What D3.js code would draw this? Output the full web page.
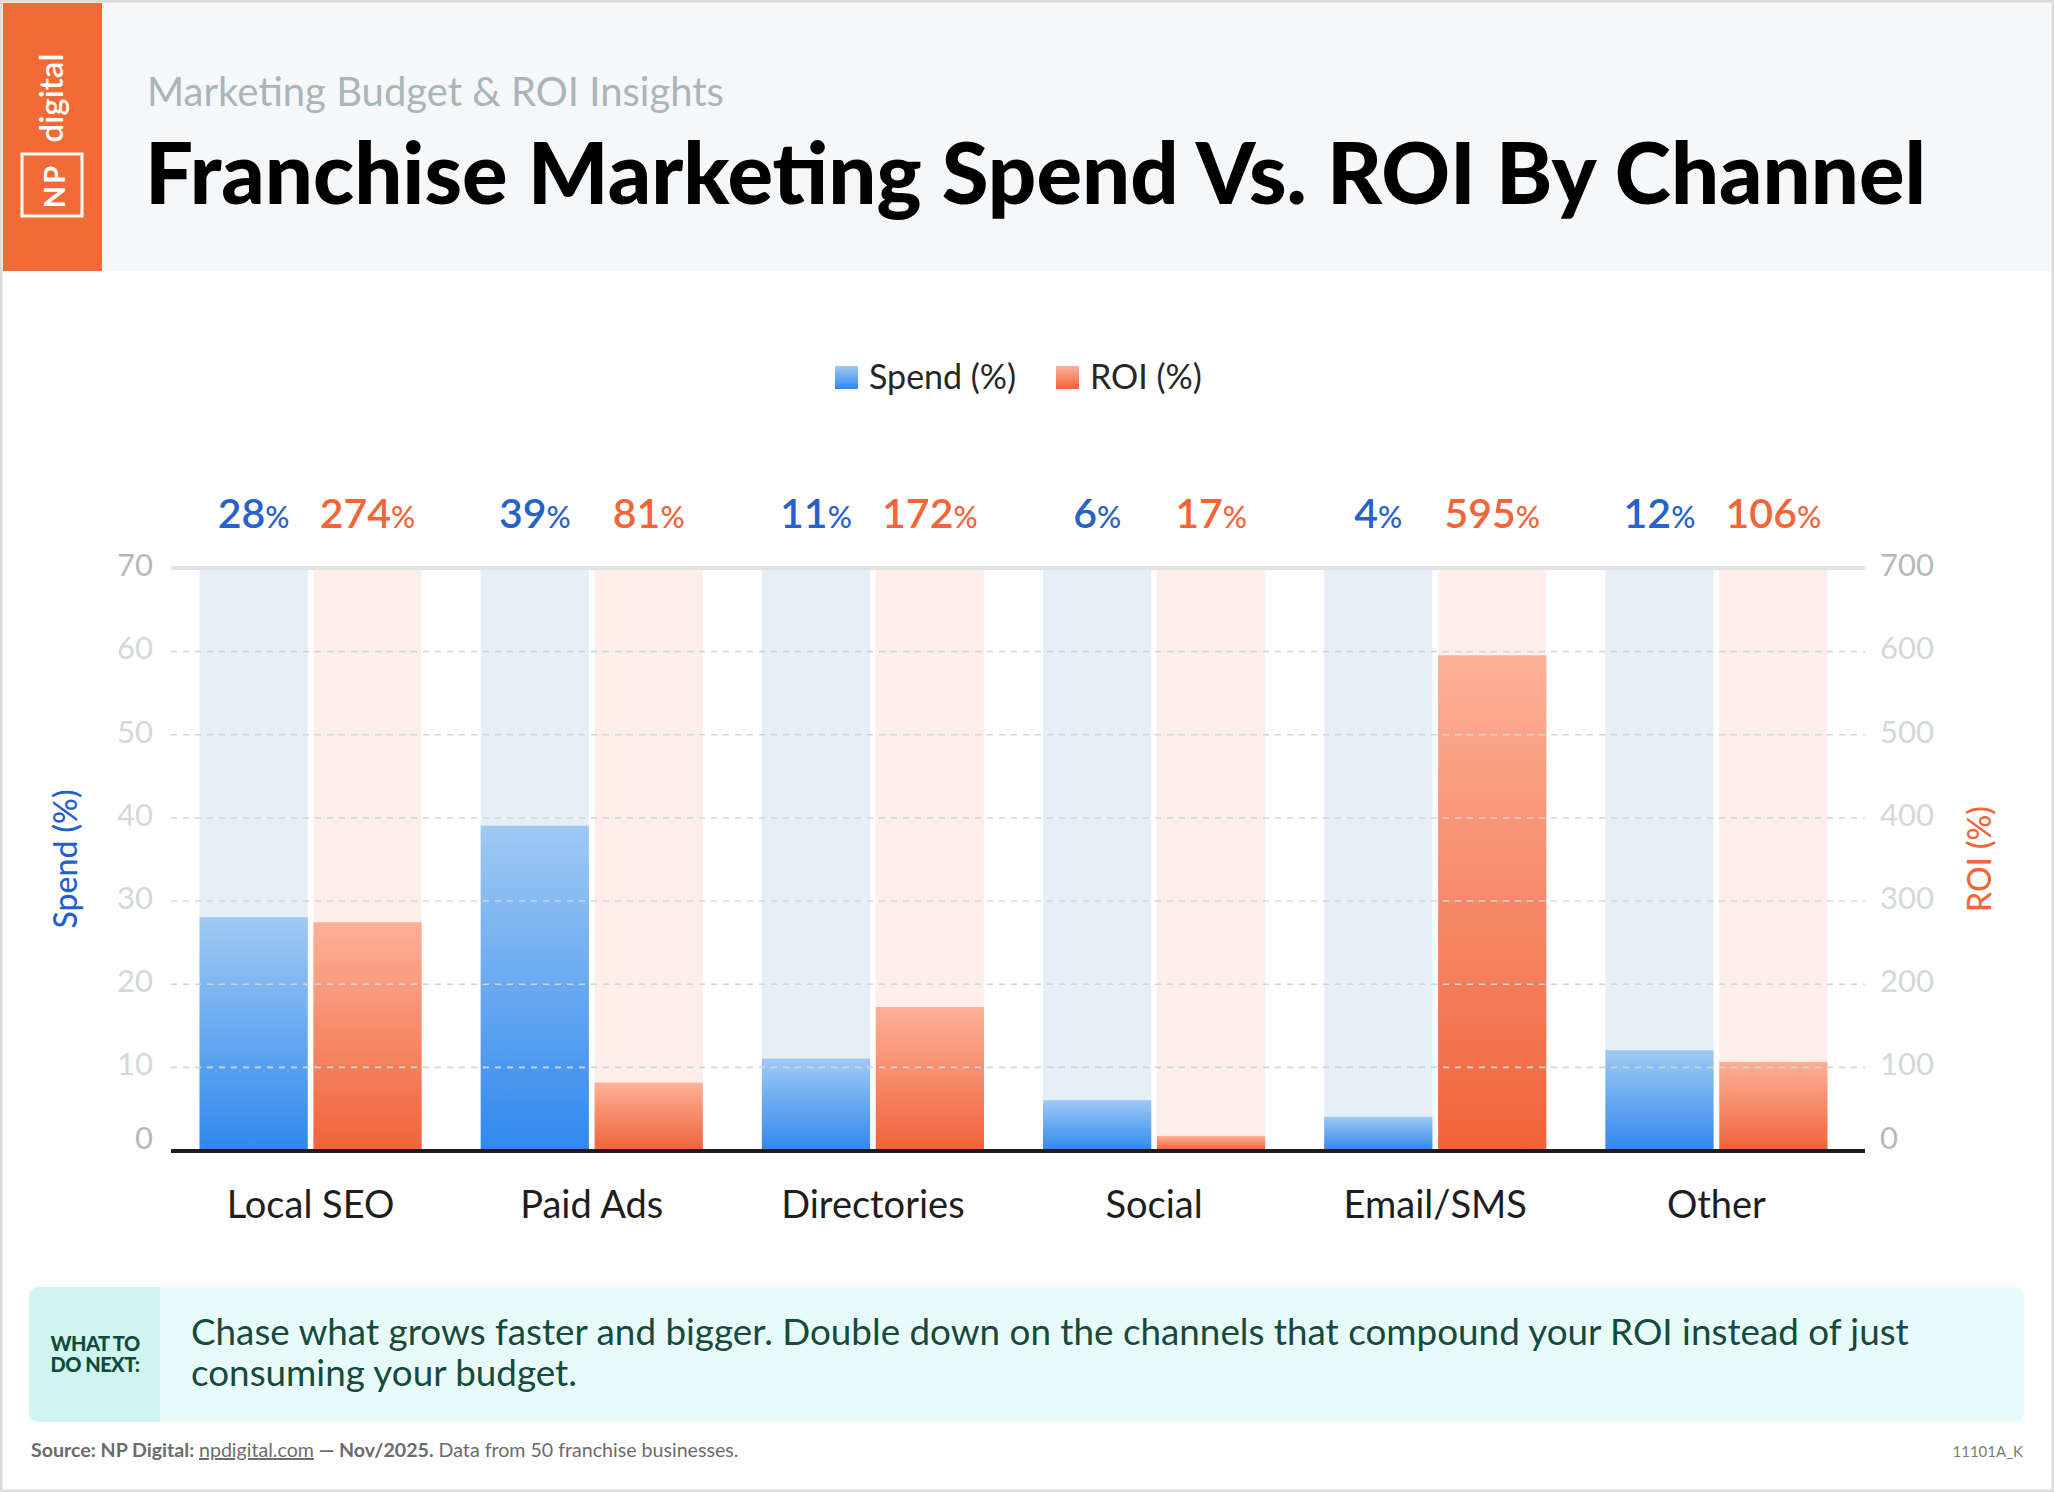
<!DOCTYPE html>
<html>
<head>
<meta charset="utf-8">
<script src="https://cdn.jsdelivr.net/npm/d3@7"></script>
<style>
  html, body { margin: 0; padding: 0; background: #fff; }
  svg { display: block; font-family: Lato, "Noto Sans", sans-serif; }
</style>
</head>
<body>
<svg id="chart" width="2054" height="1492"></svg>
<script>
const CATEGORIES = ["Local SEO", "Paid Ads", "Directories", "Social", "Email/SMS", "Other"];
const SPEND = [28, 39, 11, 6, 4, 12];
const ROI = [274, 81, 172, 17, 595, 106];
const SPEND_TICKS = [0, 10, 20, 30, 40, 50, 60, 70];
const ROI_TICKS = [0, 100, 200, 300, 400, 500, 600, 700];

const W = 2054, H = 1492;
const PLOT = { left: 171, right: 1865, top: 568, bottom: 1150 };

const BLUE_TXT = "#2862c8";
const ORANGE_TXT = "#f1653a";

const svg = d3.select("#chart");
const defs = svg.append("defs");

function gradient(id, top, bot) {
  const g = defs.append("linearGradient")
    .attr("id", id)
    .attr("x1", 0).attr("y1", 0).attr("x2", 0).attr("y2", 1);
  g.append("stop").attr("offset", "0%").attr("stop-color", top);
  g.append("stop").attr("offset", "100%").attr("stop-color", bot);
}
gradient("gBlue", "#9fcaf3", "#3188ee");
gradient("gOrange", "#fdb198", "#f0633a");

// page + header
svg.append("rect").attr("width", W).attr("height", H).attr("fill", "#fff");
svg.append("rect").attr("x", 0).attr("y", 0).attr("width", W).attr("height", 271).attr("fill", "#f6f7f9");
svg.append("rect").attr("x", 3).attr("y", 3).attr("width", 99).attr("height", 268).attr("fill", "#f26a36");

svg.append("text")
  .attr("transform", "translate(63, 98) rotate(-90)")
  .attr("text-anchor", "middle")
  .attr("fill", "#fff")
  .attr("font-size", 33)
  .attr("font-weight", 600)
  .text("digital");

svg.append("rect")
  .attr("x", 22).attr("y", 154).attr("width", 60).attr("height", 62)
  .attr("fill", "none").attr("stroke", "#fff").attr("stroke-width", 3);

svg.append("text")
  .attr("transform", "translate(53, 186) rotate(-90)")
  .attr("text-anchor", "middle")
  .attr("dominant-baseline", "central")
  .attr("fill", "#fff")
  .attr("font-size", 29)
  .attr("font-weight", 700)
  .attr("letter-spacing", 2)
  .text("NP");

svg.append("text")
  .attr("x", 147).attr("y", 106)
  .attr("fill", "#a9b5ba")
  .attr("font-size", 40)
  .text("Marketing Budget & ROI Insights");

svg.append("text")
  .attr("x", 145).attr("y", 204)
  .attr("fill", "#000")
  .attr("font-size", 85)
  .attr("font-weight", 900)
  .text("Franchise Marketing Spend Vs. ROI By Channel");

// legend
const legend = svg.append("g").attr("class", "legend");
[
  { label: "Spend (%)", fill: "url(#gBlue)", x: 835 },
  { label: "ROI (%)", fill: "url(#gOrange)", x: 1056 },
].forEach((d) => {
  legend.append("rect").attr("x", d.x).attr("y", 366).attr("width", 23).attr("height", 23).attr("fill", d.fill);
  legend.append("text")
    .attr("x", d.x + 34).attr("y", 389)
    .attr("font-size", 34)
    .attr("fill", "#262626")
    .text(d.label);
});

// scales
const x0 = d3.scaleBand()
  .domain(CATEGORIES)
  .range([170, 1857])
  .paddingInner(0.21)
  .paddingOuter(0.105);

const x1 = d3.scaleBand()
  .domain(["spend", "roi"])
  .range([0, x0.bandwidth()])
  .paddingInner(0.05);

const yL = d3.scaleLinear().domain([0, 70]).range([PLOT.bottom, PLOT.top]);
const yR = d3.scaleLinear().domain([0, 700]).range([PLOT.bottom, PLOT.top]);

const rows = CATEGORIES.map((c, i) => ({ cat: c, spend: SPEND[i], roi: ROI[i] }));

// pale full-height columns
const groups = svg.append("g")
  .selectAll(".grp")
  .data(rows)
  .join("g")
  .attr("class", "grp")
  .attr("transform", (d) => `translate(${x0(d.cat)},0)`);

groups.append("rect")
  .attr("x", x1("spend"))
  .attr("y", yL(70) + 2)
  .attr("width", x1.bandwidth())
  .attr("height", yL(0) - yL(70) - 2)
  .attr("fill", "#e6eef8");

groups.append("rect")
  .attr("x", x1("roi"))
  .attr("y", yR(700) + 2)
  .attr("width", x1.bandwidth())
  .attr("height", yR(0) - yR(700) - 2)
  .attr("fill", "#fdeeea");

// dashed gridlines
const grid = svg.append("g")
  .attr("transform", `translate(${PLOT.left},0)`)
  .call(
    d3.axisLeft(yL)
      .tickValues(SPEND_TICKS.filter((t) => t > 0 && t < 70))
      .tickSize(-(PLOT.right - PLOT.left))
      .tickFormat("")
  );
grid.select(".domain").remove();
grid.selectAll("line")
  .attr("stroke", "#cfd6da")
  .attr("stroke-width", 1.6)
  .attr("stroke-dasharray", "6,6");

// solid bars
groups.append("rect")
  .attr("x", x1("spend"))
  .attr("y", (d) => yL(d.spend))
  .attr("width", x1.bandwidth())
  .attr("height", (d) => yL(0) - yL(d.spend))
  .attr("fill", "url(#gBlue)");

groups.append("rect")
  .attr("x", x1("roi"))
  .attr("y", (d) => yR(d.roi))
  .attr("width", x1.bandwidth())
  .attr("height", (d) => yR(0) - yR(d.roi))
  .attr("fill", "url(#gOrange)");

// top line and baseline
svg.append("line")
  .attr("x1", PLOT.left).attr("x2", PLOT.right)
  .attr("y1", yL(70)).attr("y2", yL(70))
  .attr("stroke", "#dfe3e5").attr("stroke-width", 4);
svg.append("line")
  .attr("x1", PLOT.left).attr("x2", PLOT.right)
  .attr("y1", yL(0) + 1).attr("y2", yL(0) + 1)
  .attr("stroke", "#1d1d1d").attr("stroke-width", 4);

// value labels
function valueLabel(sel, key, color) {
  const t = sel.append("text")
    .attr("x", x1(key) + x1.bandwidth() / 2)
    .attr("y", 528)
    .attr("text-anchor", "middle")
    .attr("fill", color);
  t.append("tspan").attr("font-size", 41).attr("font-weight", 600).text((d) => d[key]);
  t.append("tspan").attr("font-size", 30).attr("font-weight", 500).text("%");
}
valueLabel(groups, "spend", BLUE_TXT);
valueLabel(groups, "roi", ORANGE_TXT);

// category labels
svg.append("g")
  .selectAll("text")
  .data(CATEGORIES)
  .join("text")
  .attr("x", (d) => x0(d) + x0.bandwidth() / 2)
  .attr("y", 1218)
  .attr("text-anchor", "middle")
  .attr("font-size", 38)
  .attr("fill", "#1e1e1e")
  .text((d) => d);

// y axes
const tickColor = (t, max) => (t === 0 || t === max ? "#b6b9bb" : "#d3d8db");

const axL = svg.append("g")
  .attr("transform", `translate(153,0)`)
  .call(d3.axisLeft(yL).tickValues(SPEND_TICKS).tickSize(0).tickPadding(0));
axL.select(".domain").remove();
axL.selectAll("text")
  .attr("font-family", "Lato, sans-serif")
  .attr("font-size", 31)
  .attr("dy", (t) => (t === 0 ? "-0.05em" : "0.25em"))
  .attr("fill", (t) => tickColor(t, 70));

const axR = svg.append("g")
  .attr("transform", `translate(1880,0)`)
  .call(d3.axisRight(yR).tickValues(ROI_TICKS).tickSize(0).tickPadding(0));
axR.select(".domain").remove();
axR.selectAll("text")
  .attr("font-family", "Lato, sans-serif")
  .attr("font-size", 31)
  .attr("dy", (t) => (t === 0 ? "-0.05em" : "0.25em"))
  .attr("fill", (t) => tickColor(t, 700));

svg.append("text")
  .attr("transform", "translate(77, 859) rotate(-90)")
  .attr("text-anchor", "middle")
  .attr("font-size", 32)
  .attr("font-weight", 500)
  .attr("fill", "#1f5fd0")
  .text("Spend (%)");

svg.append("text")
  .attr("transform", "translate(1991, 859) rotate(-90)")
  .attr("text-anchor", "middle")
  .attr("font-size", 32)
  .attr("font-weight", 500)
  .attr("fill", ORANGE_TXT)
  .text("ROI (%)");

// what to do next box
svg.append("rect")
  .attr("x", 29).attr("y", 1287).attr("width", 1995).attr("height", 135)
  .attr("rx", 9).attr("fill", "#e7fcfa");
svg.append("path")
  .attr("d", "M38,1287 H160 V1422 H38 A9,9 0 0 1 29,1413 V1296 A9,9 0 0 1 38,1287 Z")
  .attr("fill", "#d0f5f0");

const wt = svg.append("text")
  .attr("text-anchor", "middle")
  .attr("font-size", 20)
  .attr("font-weight", 900)
  .attr("fill", "#0f4a3b")
  .attr("letter-spacing", -0.5);
wt.append("tspan").attr("x", 95).attr("y", 1351).text("WHAT TO");
wt.append("tspan").attr("x", 95).attr("y", 1372).text("DO NEXT:");

const msg = svg.append("text")
  .attr("font-size", 36.8)
  .attr("fill", "#17493d");
msg.append("tspan").attr("x", 191).attr("y", 1345)
  .text("Chase what grows faster and bigger. Double down on the channels that compound your ROI instead of just");
msg.append("tspan").attr("x", 191).attr("y", 1386)
  .text("consuming your budget.");

// source
const src = svg.append("text")
  .attr("x", 31).attr("y", 1457)
  .attr("font-size", 19.6)
  .attr("fill", "#6b6b6b");
src.append("tspan").attr("font-weight", 700).text("Source: NP Digital: ");
src.append("tspan").attr("text-decoration", "underline").text("npdigital.com");
src.append("tspan").attr("font-weight", 700).text(" \u2014 Nov/2025.");
src.append("tspan").text(" Data from 50 franchise businesses.");

svg.append("text")
  .attr("x", 2023).attr("y", 1457)
  .attr("text-anchor", "end")
  .attr("font-size", 15)
  .attr("fill", "#7a7a7a")
  .text("11101A_K");

// outer frame
svg.append("rect")
  .attr("x", 1).attr("y", 1).attr("width", W - 2).attr("height", H - 2)
  .attr("fill", "none").attr("stroke", "#dcdcdc").attr("stroke-width", 3);
</script>
</body>
</html>
